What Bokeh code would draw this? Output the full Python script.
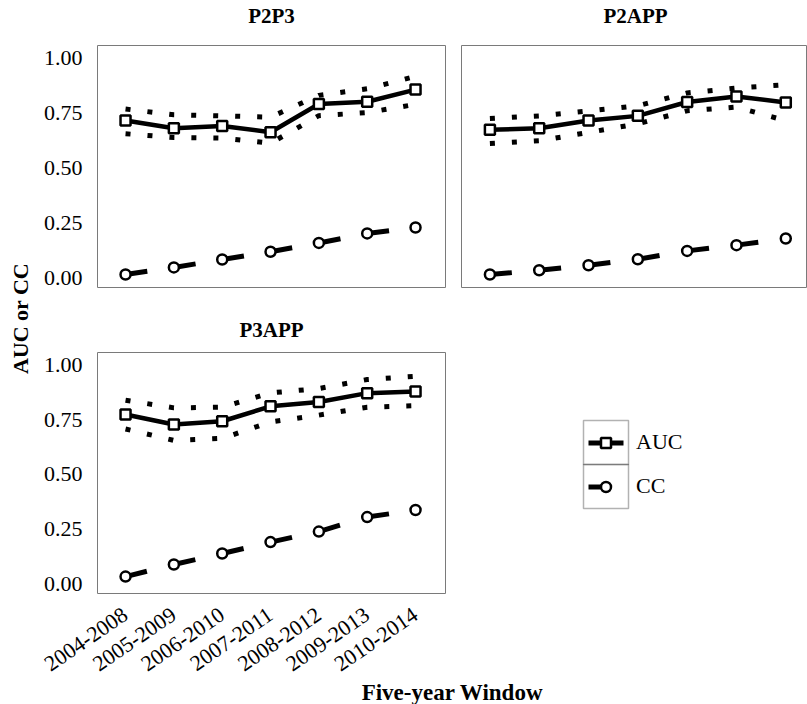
import math
from bokeh.plotting import figure
from bokeh.models import (ColumnDataSource, FixedTicker, NumeralTickFormatter, Label,
                          Legend, LegendItem, BoxAnnotation, Range1d)
from bokeh.layouts import row, column
from bokeh.embed import file_html
from bokeh.resources import INLINE

# ---------------- data ----------------
windows = ["2004-2008", "2005-2009", "2006-2010", "2007-2011",
           "2008-2012", "2009-2013", "2010-2014"]
y_ticks = [0.0, 0.25, 0.5, 0.75, 1.0]

p2p3_auc = [0.715, 0.680, 0.690, 0.662, 0.790, 0.800, 0.855]
p2p3_hi = [0.767, 0.741, 0.736, 0.730, 0.829, 0.859, 0.915]
p2p3_lo = [0.655, 0.638, 0.635, 0.612, 0.737, 0.751, 0.788]
p2p3_cc = [0.017, 0.049, 0.085, 0.120, 0.160, 0.203, 0.230]

p2app_auc = [0.673, 0.680, 0.715, 0.736, 0.799, 0.824, 0.797]
p2app_hi = [0.724, 0.736, 0.758, 0.782, 0.840, 0.862, 0.877]
p2app_lo = [0.611, 0.623, 0.661, 0.700, 0.759, 0.776, 0.714]
p2app_cc = [0.017, 0.036, 0.059, 0.086, 0.124, 0.150, 0.180]

p3app_auc = [0.773, 0.727, 0.742, 0.810, 0.830, 0.870, 0.878]
p3app_hi = [0.838, 0.803, 0.806, 0.871, 0.891, 0.932, 0.947]
p3app_lo = [0.707, 0.655, 0.664, 0.739, 0.770, 0.806, 0.813]
p3app_cc = [0.035, 0.090, 0.140, 0.192, 0.240, 0.306, 0.338]

SERIF = "'Liberation Serif', 'Times New Roman', 'DejaVu Serif', serif"
FRAME = "#7a7a7a"


def blank(w, h, top=0, bottom=0):
    f = figure(width=w, height=h, output_backend="svg", toolbar_location=None,
               x_range=Range1d(0, 1), y_range=Range1d(0, 1),
               min_border_left=0, min_border_right=0,
               min_border_top=top, min_border_bottom=bottom,
               x_axis_location=None, y_axis_location=None)
    f.outline_line_color = None
    f.xgrid.visible = False
    f.ygrid.visible = False
    f.background_fill_alpha = 0
    f.border_fill_alpha = 0
    return f


def panel(title, auc, lo, hi, cc, width, height, mbl, mbr, mbt, mbb, xr,
          show_y, show_x):
    p = figure(width=width, height=height, title=title,
               x_range=Range1d(*xr), y_range=Range1d(-0.042, 1.055),
               output_backend="svg", toolbar_location=None,
               min_border_left=mbl, min_border_right=mbr,
               min_border_top=mbt, min_border_bottom=mbb)
    if title:
        p.title.text_font = SERIF
        p.title.text_font_style = "bold"
        p.title.text_font_size = "21px"
        p.title.text_color = "black"
        p.title.align = "center"
        p.title.standoff = 22
    p.xgrid.visible = False
    p.ygrid.visible = False
    p.outline_line_color = FRAME
    p.outline_line_width = 1
    p.background_fill_color = "white"
    p.border_fill_color = "white"

    idx = list(range(len(windows)))
    src = ColumnDataSource(dict(x=idx, auc=auc, lo=lo, hi=hi, cc=cc))
    seg = ColumnDataSource(dict(x0=idx[:-1], y0=cc[:-1], x1=idx[1:], y1=cc[1:]))

    for col in ("hi", "lo"):
        p.line("x", col, source=src, line_color="black", line_width=5,
               line_dash="5 17", line_cap="butt")
    p.line("x", "auc", source=src, line_color="black", line_width=4.5)
    p.scatter("x", "auc", source=src, marker="square", size=10,
              fill_color="white", line_color="black", line_width=2.5)

    p.segment("x0", "y0", "x1", "y1", source=seg, line_color="black",
              line_width=5, line_dash="22 60", line_cap="butt")
    p.scatter("x", "cc", source=src, marker="circle", size=10,
              fill_color="white", line_color="black", line_width=2.5)

    yax = p.yaxis[0]
    if show_y:
        yax.ticker = FixedTicker(ticks=y_ticks)
        yax.formatter = NumeralTickFormatter(format="0.00")
        yax.major_label_text_font = SERIF
        yax.major_label_text_font_size = "22px"
        yax.major_label_text_color = "black"
        yax.major_tick_line_color = None
        yax.minor_tick_line_color = None
        yax.major_tick_out = 0
        yax.major_tick_in = 0
        yax.minor_tick_out = 0
        yax.axis_line_color = None
        yax.major_label_standoff = 15
    else:
        yax.visible = False

    xax = p.xaxis[0]
    if show_x:
        xax.ticker = FixedTicker(ticks=idx)
        xax.major_label_overrides = {i: w for i, w in enumerate(windows)}
        xax.major_label_orientation = 0.6
        xax.major_label_text_font = SERIF
        xax.major_label_text_font_size = "22px"
        xax.major_label_text_color = "black"
        xax.major_tick_line_color = None
        xax.minor_tick_line_color = None
        xax.major_tick_out = 0
        xax.major_tick_in = 0
        xax.minor_tick_out = 0
        xax.axis_line_color = None
        xax.major_label_standoff = 19
    else:
        xax.visible = False
    return p


XR_A = (-0.58, 6.62)
XR_B = (-0.576, 6.42)

# panel titles of the top row
tops = blank(772, 43)
for txt, cx in (("P2P3", 236), ("P2APP", 600)):
    tops.add_layout(Label(x=cx, y=28, x_units="screen", y_units="screen",
                          text=txt, text_align="center", text_baseline="alphabetic",
                          text_font=SERIF, text_font_style="bold",
                          text_font_size="21px", text_color="black"))

pa = panel(None, p2p3_auc, p2p3_lo, p2p3_hi, p2p3_cc, 415, 257,
           62, 5, 2, 13, XR_A, True, False)
pb = panel(None, p2app_auc, p2app_lo, p2app_hi, p2app_cc, 357, 257,
           11, 1, 2, 13, XR_B, False, False)
pc = panel("P3APP", p3app_auc, p3app_lo, p3app_hi, p3app_cc, 415, 381,
           62, 5, 52, 88, XR_A, True, True)

# ---------------- legend panel ----------------
pl = blank(357, 381, top=52, bottom=88)
hidden = ColumnDataSource(dict(x=[-10, -9], y=[-10, -10]))
r_auc_line = pl.line("x", "y", source=hidden, line_color="black", line_width=5,
                     line_dash="35 100", line_dash_offset=130, line_cap="butt")
r_auc_mark = pl.scatter("x", "y", source=hidden, marker="square", size=10,
                        fill_color="white", line_color="black", line_width=2.5)
r_cc_line = pl.line("x", "y", source=hidden, line_color="black", line_width=5,
                    line_dash="17 28", line_dash_offset=40, line_cap="butt")
r_cc_mark = pl.scatter("x", "y", source=hidden, marker="circle", size=10,
                       fill_color="white", line_color="black", line_width=2.5)

legend = Legend(items=[LegendItem(label="AUC", renderers=[r_auc_line, r_auc_mark]),
                       LegendItem(label="CC", renderers=[r_cc_line, r_cc_mark])],
                location=(133, 85), orientation="vertical",
                glyph_width=45, glyph_height=25, spacing=0, padding=0, margin=0,
                label_standoff=8, label_height=44,
                label_text_font=SERIF, label_text_font_size="22px",
                label_text_color="black",
                border_line_color=None, background_fill_alpha=0)
pl.add_layout(legend, "center")

for b, t in ((129, 173), (85, 129)):
    pl.add_layout(BoxAnnotation(left=133, right=178, bottom=b, top=t,
                                left_units="screen", right_units="screen",
                                bottom_units="screen", top_units="screen",
                                fill_alpha=0, line_color="black", line_width=1.5))

# ---------------- axis titles ----------------
xlab = blank(772, 23)
xlab.add_layout(Label(x=417, y=12, x_units="screen", y_units="screen",
                      text="Five-year Window", text_align="center",
                      text_baseline="alphabetic", text_font=SERIF,
                      text_font_style="bold", text_font_size="23px",
                      text_color="black"))

ylab = blank(35, 704)
ylab.add_layout(Label(x=20, y=386, x_units="screen", y_units="screen",
                      text="AUC or CC", angle=math.pi / 2, text_align="center",
                      text_baseline="middle", text_font=SERIF,
                      text_font_style="bold", text_font_size="22px",
                      text_color="black"))

layout = row(ylab, column(tops, row(pa, pb), row(pc, pl), xlab))

with open("out.html", "w") as fh:
    fh.write(file_html(layout, INLINE))
